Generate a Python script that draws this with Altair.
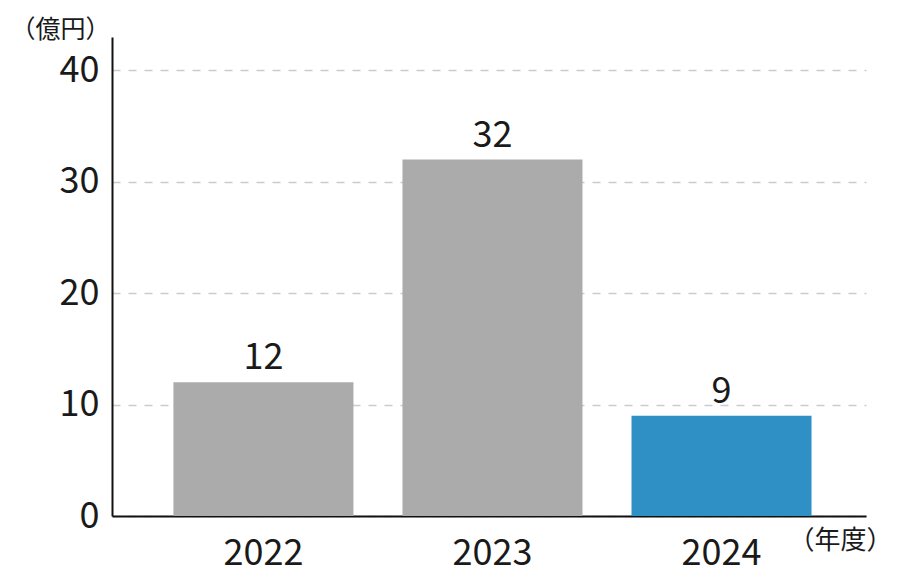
import pandas as pd
import altair as alt

FONT = "Noto Sans CJK JP"

years = ["2022", "2023", "2024"]
values = [12, 32, 9]
colors = ["#ababab", "#ababab", "#2e90c4"]
y_ticks = [0, 10, 20, 30, 40]

df = pd.DataFrame({"year": years, "value": values})

base = alt.Chart(df).encode(
    x=alt.X(
        "year:N",
        title="（年度）",
        sort=years,
        scale=alt.Scale(paddingInner=0.214, paddingOuter=0.253, align=0.53),
        axis=alt.Axis(
            labelAngle=0,
            labelFontSize=36,
            labelPadding=20,
            labelBaseline="top",
            ticks=False,
            titleX=676,
            titleY=24,
            titleAlign="left",
            titleBaseline="middle",
            titleFontSize=26,
            titleFontWeight="normal",
        ),
    ),
    y=alt.Y(
        "value:Q",
        title="（億円）",
        scale=alt.Scale(domain=[0, 43], nice=False),
        axis=alt.Axis(
            values=y_ticks,
            labelFontSize=36,
            labelPadding=13,
            ticks=False,
            grid=True,
            gridColor="#cccccc",
            gridWidth=1.6,
            gridDash=[8, 8],
            titleAngle=0,
            titleX=-102,
            titleY=0,
            titleAlign="left",
            titleBaseline="alphabetic",
            titleFontSize=25,
            titleFontWeight="normal",
        ),
    ),
)

bars = base.mark_bar().encode(
    color=alt.Color(
        "year:N",
        scale=alt.Scale(domain=years, range=colors),
        legend=None,
    )
)

labels = base.mark_text(
    dy=-13, baseline="alphabetic", fontSize=36, font=FONT, color="#1a1a1a"
).encode(text="value:Q")

chart = (
    alt.layer(bars, labels)
    .properties(
        width=754,
        height=479,
        autosize=alt.AutoSizeParams(type="none"),
        padding={"left": 104, "top": 29, "right": 26, "bottom": 64},
    )
    .configure_view(stroke=None)
    .configure_axis(
        domainColor="#111111",
        domainWidth=2,
        labelColor="#1a1a1a",
        titleColor="#1a1a1a",
        labelFont=FONT,
        titleFont=FONT,
    )
)

chart.save("out.html", embed_options={"renderer": "svg", "actions": False})
